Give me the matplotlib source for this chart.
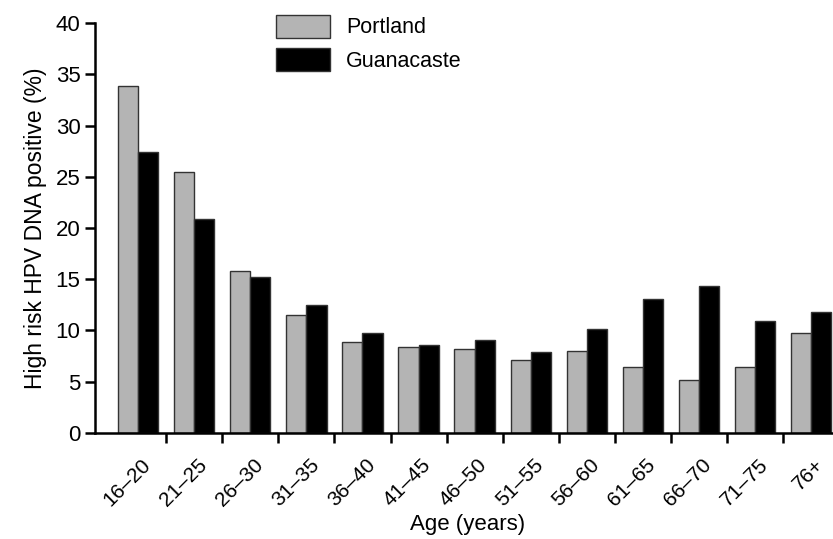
import numpy as np
import matplotlib.pyplot as plt
import matplotlib.transforms as mtransforms

plt.rcParams['font.family'] = ['Liberation Sans', 'DejaVu Sans']

# ---- data ----
age_groups = ['16–20', '21–25', '26–30', '31–35', '36–40', '41–45', '46–50',
              '51–55', '56–60', '61–65', '66–70', '71–75', '76+']
portland = [33.9, 25.5, 15.8, 11.5, 8.9, 8.4, 8.2, 7.1, 8.0, 6.4, 5.2, 6.4, 9.7]
guanacaste = [27.4, 20.9, 15.2, 12.5, 9.7, 8.6, 9.1, 7.9, 10.1, 13.1, 14.3, 10.9, 11.8]

x = np.arange(len(age_groups))
w = 0.36

fig = plt.figure(figsize=(8.33, 5.39), dpi=100)
ax = fig.add_axes([0.114, 0.197, 0.886, 0.76])

ax.bar(x - w / 2, portland, w, color='#b4b4b4', edgecolor='#333333',
       linewidth=1.0, label='Portland')
ax.bar(x + w / 2, guanacaste, w, color='black', edgecolor='#333333',
       linewidth=1.0, label='Guanacaste')

ax.set_xlim(-0.77, 12.39)
ax.set_ylim(0, 40)
ax.set_yticks(np.arange(0, 41, 5))

# labels at group centres, tick marks at group boundaries
ax.set_xticks(x)
ax.set_xticklabels(age_groups, rotation=45, ha='right', va='top',
                   rotation_mode='anchor')
ax.set_xticks(x[:-1] + 0.5, minor=True)
ax.tick_params(axis='x', which='major', length=0, pad=16, labelsize=15)
ax.tick_params(axis='x', which='minor', length=7, width=1.8, direction='out')
ax.tick_params(axis='y', length=7, width=1.8, direction='out', labelsize=16)
offset = mtransforms.ScaledTranslation(0.03, 0, fig.dpi_scale_trans)
for lab in ax.get_xticklabels():
    lab.set_transform(lab.get_transform() + offset)

for s in ['top', 'right']:
    ax.spines[s].set_visible(False)
for s in ['left', 'bottom']:
    ax.spines[s].set_linewidth(1.8)

ax.set_ylabel('High risk HPV DNA positive (%)', fontsize=16.5, labelpad=6)
ax.set_xlabel('Age (years)', fontsize=16)
ax.xaxis.set_label_coords(0.505, -0.197)

ax.legend(loc='upper left', bbox_to_anchor=(0.219, 1.068), frameon=False,
          fontsize=15.5, handlelength=2.5, handleheight=1.26,
          labelspacing=0.45, handletextpad=0.77)

fig.savefig('out.png', dpi=100)
